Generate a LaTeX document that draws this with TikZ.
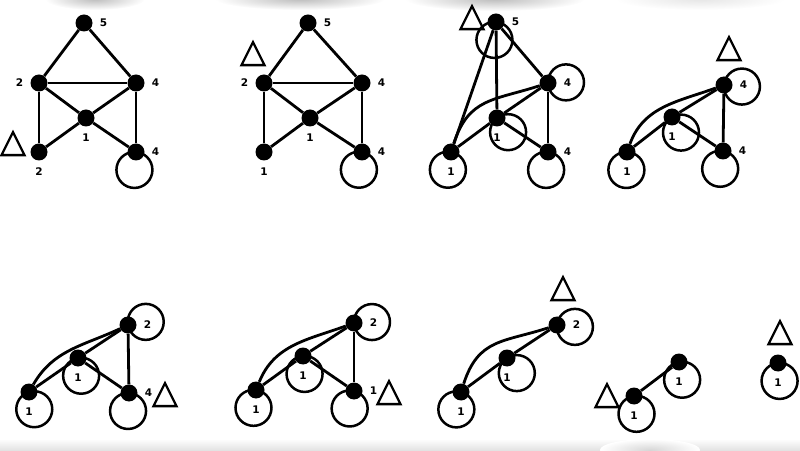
\documentclass[tikz,border=0pt]{standalone}
\usepackage{fontspec}
\setmainfont{DejaVu Sans}
\usetikzlibrary{shapes.geometric}
\tikzset{
    vertex/.style={circle, fill=black, inner sep=0pt, minimum size=17pt},
    num/.style={font=\bfseries\fontsize{10.5}{12}\selectfont, inner sep=0pt},
    edge/.style={line width=2.8pt},
    ring/.style={line width=2.5pt},
    marker/.style={draw, isosceles triangle, isosceles triangle stretches,
        shape border rotate=90, minimum width=23pt, minimum height=23pt,
        inner sep=0pt, line width=2.3pt},
    smudge/.style={inner color=black!26, outer color=white},
    every label/.style={num},
    label distance=7pt
}
\newcommand{\selfloop}[2]{\draw[ring] ([shift={(#2:18pt)}]#1.center) circle (18pt);}

\begin{document}
\begin{tikzpicture}[x=1pt,y=1pt]
    \path[use as bounding box] (0,0) rectangle (800,450);
    \begin{scope}
        \clip (0,0) rectangle (800,450);
        \shade[smudge] (95,451) ellipse (50pt and 11pt);
        \shade[smudge] (300,451) ellipse (85pt and 11pt);
        \shade[smudge] (495,451) ellipse (90pt and 12pt);
        \shade[inner color=black!10, outer color=white] (700,451) ellipse (85pt and 11pt);
        \shade[top color=white, bottom color=black!11] (0,11) rectangle (800,0);
        \shade[inner color=black!16, outer color=white] (650,0) ellipse (50pt and 11pt);
    \end{scope}

    % first graph
    \node[vertex, label=right:5] (TOP1) at (84,427) {};
    \node[vertex, label=left:2] (UL1) at (39,367) {};
    \node[vertex, label=right:4] (UR1) at (136,367) {};
    \node[vertex, label=below:1] (MID1) at (86,332) {};
    \node[vertex, label=below:2] (BL1) at (39,298) {};
    \node[vertex, label=right:4] (BR1) at (136,298) {};
    \node[marker] (MARK1) at (13,302) {};
    \draw[edge] (TOP1) -- (UL1);
    \draw[edge] (TOP1) -- (UR1);
    \draw[edge] (UL1) -- (UR1);
    \draw[edge] (UL1) -- (MID1);
    \draw[edge] (UR1) -- (MID1);
    \draw[edge] (UL1) -- (BL1);
    \draw[edge] (UR1) -- (BR1);
    \draw[edge] (MID1) -- (BL1);
    \draw[edge] (MID1) -- (BR1);
    \selfloop{BR1}{265}

    % second graph
    \node[vertex, label=right:5] (TOP2) at (308,427) {};
    \node[vertex, label=left:2] (UL2) at (264,367) {};
    \node[vertex, label=right:4] (UR2) at (362,367) {};
    \node[vertex, label=below:1] (MID2) at (310,332) {};
    \node[vertex, label=below:1] (BL2) at (264,298) {};
    \node[vertex, label=right:4] (BR2) at (362,298) {};
    \node[marker] (MARK2) at (253,392) {};
    \draw[edge] (TOP2) -- (UL2);
    \draw[edge] (TOP2) -- (UR2);
    \draw[edge] (UL2) -- (UR2);
    \draw[edge] (UL2) -- (MID2);
    \draw[edge] (UR2) -- (MID2);
    \draw[edge] (UL2) -- (BL2);
    \draw[edge] (UR2) -- (BR2);
    \draw[edge] (MID2) -- (BL2);
    \draw[edge] (MID2) -- (BR2);
    \selfloop{BR2}{260}

    % third graph
    \node[vertex, label=right:5] (TOP3) at (496,428) {};
    \node[vertex, label=right:4] (UR3) at (548,367) {};
    \node[vertex, label=below:1] (MID3) at (497,332) {};
    \node[vertex, label=below:1] (BL3) at (451,298) {};
    \node[vertex, label=right:4] (BR3) at (548,298) {};
    \node[marker] (MARK3) at (472,428) {};
    \draw[edge] (TOP3) -- (BL3);
    \draw[edge] (TOP3) -- (MID3);
    \draw[edge] (TOP3) -- (UR3);
    \draw[edge] (BL3) to[out=72, in=198, looseness=1.2] (UR3);
    \draw[edge] (UR3) -- (MID3);
    \draw[edge] (UR3) -- (BR3);
    \draw[edge] (MID3) -- (BL3);
    \draw[edge] (MID3) -- (BR3);
    \selfloop{TOP3}{265}
    \selfloop{UR3}{2}
    \selfloop{MID3}{308}
    \selfloop{BL3}{260}
    \selfloop{BR3}{264}

    % fourth graph
    \node[vertex, label=right:4] (TOP4) at (724,365) {};
    \node[vertex, label=below:1] (MID4) at (672,333) {};
    \node[vertex, label=below:1] (BL4) at (627,298) {};
    \node[vertex, label=right:4] (BR4) at (723,299) {};
    \node[marker] (MARK4) at (729,397) {};
    \draw[edge] (BL4) to[out=70, in=200] (TOP4);
    \draw[edge] (BL4) -- (MID4);
    \draw[edge] (MID4) -- (TOP4);
    \draw[edge] (MID4) -- (BR4);
    \draw[edge] (TOP4) -- (BR4);
    \selfloop{TOP4}{355}
    \selfloop{MID4}{300}
    \selfloop{BL4}{268}
    \selfloop{BR4}{261}

    % fifth graph
    \node[vertex, label=right:2] (TOP5) at (128,125) {};
    \node[vertex, label=below:1] (MID5) at (78,92) {};
    \node[vertex, label=below:1] (BL5) at (29,58) {};
    \node[vertex, label=right:4] (BR5) at (129,57) {};
    \node[marker] (MARK5) at (165,51) {};
    \draw[edge] (BL5) to[out=60, in=205] (TOP5);
    \draw[edge] (BL5) -- (MID5);
    \draw[edge] (MID5) -- (TOP5);
    \draw[edge] (MID5) -- (BR5);
    \draw[edge] (TOP5) -- (BR5);
    \selfloop{TOP5}{10}
    \selfloop{MID5}{280}
    \selfloop{BL5}{287}
    \selfloop{BR5}{267}

    % sixth graph
    \node[vertex, label=right:2] (TOP6) at (354,127) {};
    \node[vertex, label=below:1] (MID6) at (303,94) {};
    \node[vertex, label=below:1] (BL6) at (256,60) {};
    \node[vertex, label=right:1] (BR6) at (354,59) {};
    \node[marker] (MARK6) at (389,53) {};
    \draw[edge] (BL6) to[out=68, in=200] (TOP6);
    \draw[edge] (BL6) -- (MID6);
    \draw[edge] (MID6) -- (TOP6);
    \draw[edge] (MID6) -- (BR6);
    \draw[edge] (TOP6) -- (BR6);
    \selfloop{TOP6}{3}
    \selfloop{MID6}{275}
    \selfloop{BL6}{262}
    \selfloop{BR6}{256}

    % seventh graph
    \node[vertex, label=right:2] (TOP7) at (557,125) {};
    \node[vertex, label=below:1] (MID7) at (507,92) {};
    \node[vertex, label=below:1] (BL7) at (461,58) {};
    \node[marker] (MARK7) at (563,157) {};
    \draw[edge] (BL7) to[out=72, in=198, looseness=1.2] (TOP7);
    \draw[edge] (BL7) -- (MID7);
    \draw[edge] (MID7) -- (TOP7);
    \selfloop{TOP7}{354}
    \selfloop{MID7}{303}
    \selfloop{BL7}{255}

    % eighth and ninth graph
    \node[vertex, label=below:1] (UP8) at (679,88) {};
    \node[vertex, label=below:1] (LOW8) at (634,54) {};
    \node[marker] (MARK8) at (607,50) {};
    \draw[edge] (LOW8) -- (UP8);
    \selfloop{UP8}{280}
    \selfloop{LOW8}{278}

    \node[vertex, label=below:1] (ONE9) at (778,87) {};
    \node[marker] (MARK9) at (780,113) {};
    \selfloop{ONE9}{275}

    %\draw[help lines, step=50] (0,0) grid (800,450);
\end{tikzpicture}
\end{document}
